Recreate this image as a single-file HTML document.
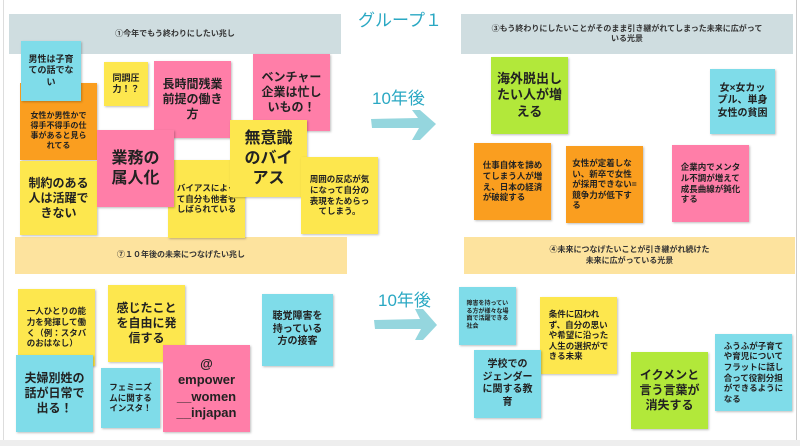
<!DOCTYPE html>
<html><head><meta charset="utf-8"><style>
body{margin:0;width:800px;height:446px;background:#fff;position:relative;overflow:hidden;font-family:"Liberation Sans","Noto Sans CJK JP",sans-serif;}
.n{position:absolute;display:flex;align-items:center;justify-content:center;text-align:center;color:#222;font-weight:bold;line-height:1.25;box-shadow:1px 1px 2px rgba(0,0,0,.25);box-sizing:border-box;padding:2px;white-space:nowrap;}
.l{text-align:left}
.y{background:#fde74e}.p{background:#ff7ea8}.b{background:#7fdce9}.o{background:#fa9e1f}.g{background:#b2e83a}
.h{position:absolute;display:flex;align-items:center;justify-content:center;text-align:center;font-size:8px;font-weight:bold;color:#333;line-height:1.3}
.t{position:absolute;color:#2aa8c3;font-size:17px}
</style></head><body>
<div style="position:absolute;left:3px;top:0;width:1px;height:440px;background:#ddd"></div>
<div style="position:absolute;left:796px;top:0;width:1px;height:446px;background:#ccc"></div>
<div style="position:absolute;left:0;top:440px;width:800px;height:6px;background:#eee"></div>
<div class="t" style="left:358px;top:6px">グループ１</div>
<div class="t" style="left:372px;top:84px">10年後</div>
<div class="t" style="left:378px;top:286px">10年後</div>
<svg style="position:absolute;left:0;top:0" width="800" height="446">
<g fill="#95d6de">
<path d="M371 119 L418 118 L412 110 L420 110 L436 124 L420 140 L412 140 L419 128 L372 128 Z"/>
<path d="M374 320 L420 319 L415 309 L423 309 L437 325 L423 340 L415 340 L421 329 L375 329 Z"/>
</g></svg>
<div class="h" style="left:9px;top:14px;width:332px;height:40px;background:#cfdde0">①今年でもう終わりにしたい兆し</div>
<div class="h" style="left:461px;top:14px;width:332px;height:40px;background:#cfdde0">③もう終わりにしたいことがそのまま引き継がれてしまった未来に広がって<br>いる光景</div>
<div class="h" style="left:15px;top:237px;width:332px;height:37px;background:#fde39e">⑦１０年後の未来につなげたい兆し</div>
<div class="h" style="left:464px;top:237px;width:331px;height:37px;background:#fde39e">④未来につなげたいことが引き継がれ続けた<br>未来に広がっている光景</div>

<div class="n o" style="left:20px;top:83px;width:77px;height:77px;font-size:8px;padding-top:20px">女性か男性かで<br>得手不得手の仕<br>事があると見ら<br>れてる</div>
<div class="n b" style="left:21px;top:41px;width:60px;height:60px;font-size:9px">男性は子育<br>ての話でな<br>い</div>
<div class="n y" style="left:104px;top:62px;width:44px;height:44px;font-size:9px">同調圧<br>力！？</div>
<div class="n p" style="left:154px;top:61px;width:77px;height:77px;font-size:12px">長時間残業<br>前提の働き<br>方</div>
<div class="n p" style="left:253px;top:54px;width:77px;height:77px;font-size:12px">ベンチャー<br>企業は忙し<br>いもの！</div>
<div class="n y" style="left:20px;top:161px;width:77px;height:74px;font-size:12px">制約のある<br>人は活躍で<br>きない</div>
<div class="n y" style="left:168px;top:160px;width:77px;height:78px;font-size:8.5px">バイアスによっ<br>て自分も他者も<br>しばられている</div>
<div class="n p" style="left:97px;top:130px;width:77px;height:77px;font-size:16px">業務の<br>属人化</div>
<div class="n y" style="left:230px;top:120px;width:77px;height:77px;font-size:16px">無意識<br>のバイ<br>アス</div>
<div class="n y" style="left:301px;top:157px;width:77px;height:77px;font-size:8.5px">周囲の反応が気<br>になって自分の<br>表現をためらっ<br>てしまう。</div>

<div class="n g" style="left:491px;top:57px;width:77px;height:77px;font-size:13px">海外脱出し<br>たい人が増<br>える</div>
<div class="n b" style="left:710px;top:69px;width:65px;height:65px;font-size:10px">女×女カッ<br>プル、単身<br>女性の貧困</div>
<div class="n o l" style="left:474px;top:143px;width:77px;height:77px;font-size:8.5px">仕事自体を諦め<br>てしまう人が増<br>え、日本の経済<br>が破綻する</div>
<div class="n o l" style="left:566px;top:146px;width:77px;height:77px;font-size:8.5px">女性が定着しな<br>い、新卒で女性<br>が採用できない=<br>競争力が低下す<br>る</div>
<div class="n p l" style="left:672px;top:145px;width:77px;height:77px;font-size:8.5px">企業内でメンタ<br>ル不調が増えて<br>成長曲線が鈍化<br>する</div>

<div class="n y l" style="left:18px;top:289px;width:77px;height:77px;font-size:8.5px">一人ひとりの能<br>力を発揮して働<br>く（例：スタバ<br>のおはなし）</div>
<div class="n y" style="left:108px;top:285px;width:77px;height:77px;font-size:12px">感じたこと<br>を自由に発<br>信する</div>
<div class="n b" style="left:16px;top:355px;width:77px;height:77px;font-size:12px">夫婦別姓の<br>話が日常で<br>出る！</div>
<div class="n b" style="left:101px;top:368px;width:59px;height:60px;font-size:8.5px">フェミニズ<br>ムに関する<br>インスタ！</div>
<div class="n p" style="left:163px;top:345px;width:87px;height:87px;font-size:13px">@<br>empower<br>__women<br>__injapan</div>
<div class="n b" style="left:262px;top:294px;width:71px;height:72px;font-size:10px">聴覚障害を<br>持っている<br>方の接客</div>

<div class="n b l" style="left:459px;top:287px;width:57px;height:58px;font-size:6px">障害を持ってい<br>る方が様々な場<br>面で活躍できる<br>社会</div>
<div class="n y l" style="left:540px;top:297px;width:77px;height:77px;font-size:8.5px">条件に囚われ<br>ず、自分の思い<br>や希望に沿った<br>人生の選択がで<br>きる未来</div>
<div class="n b" style="left:474px;top:350px;width:67px;height:68px;font-size:10px">学校での<br>ジェンダー<br>に関する教<br>育</div>
<div class="n g" style="left:631px;top:352px;width:77px;height:77px;font-size:12px">イクメンと<br>言う言葉が<br>消失する</div>
<div class="n b l" style="left:715px;top:334px;width:77px;height:77px;font-size:8.5px">ふうふが子育て<br>や育児について<br>フラットに話し<br>合って役割分担<br>ができるように<br>なる</div>
</body></html>
